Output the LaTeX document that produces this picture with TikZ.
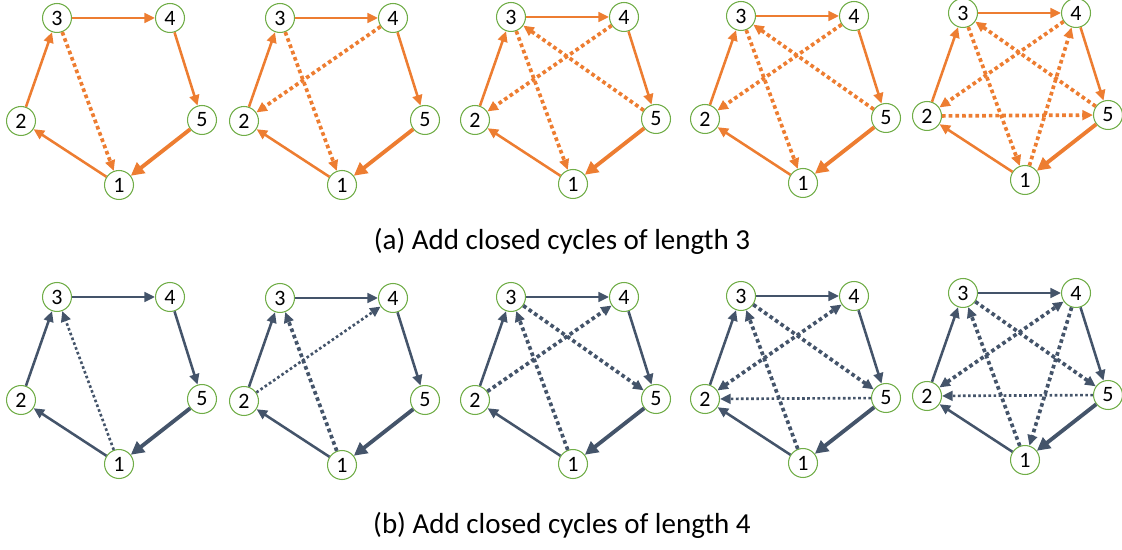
\documentclass[tikz,border=0pt]{standalone}
\usepackage{fontspec}
\setmainfont{Carlito}
\usetikzlibrary{arrows.meta}
\definecolor{cyorange}{HTML}{ED7D31}
\definecolor{cyslate}{HTML}{44546A}
\definecolor{cygreen}{HTML}{70AD47}
\tikzset{
  >={Triangle[length=6pt,width=5.5pt]},
  vtx/.style={circle,draw=cygreen,line width=0.6pt,fill=white,minimum size=16.5pt,
    inner sep=0pt,font=\fontsize{12.5}{14}\selectfont},
  ring/.style={->,line width=1.45pt},
  ringbold/.style={-{Triangle[length=7.5pt,width=7.5pt]},line width=2.2pt},
  chord/.style={->,line width=2.1pt,dash pattern=on 2.1pt off 1.7pt},
  chordthin/.style={->,line width=1.5pt,dash pattern=on 1.5pt off 1.4pt},
  caption/.style={font=\fontsize{16.5}{20}\selectfont}
}

\begin{document}
\begin{tikzpicture}[x=0.02cm,y=-0.02cm]
  \useasboundingbox (0,0) rectangle (1122,550);

  %--- the five pentagons of each row --------------------------------------
  \foreach \p/\x/\y in {a1/57/18,a2/280/18,a3/511/17,a4/741/16,a5/963/13,
                        b1/57/297,b2/280/298,b3/511/297,b4/741/296,b5/963/293}{
    \begin{scope}[shift={(\x,\y)}]
      \node[vtx] (\p-3) at (0,0)     {3};
      \node[vtx] (\p-4) at (113,0)   {4};
      \node[vtx] (\p-2) at (-36,103) {2};
      \node[vtx] (\p-5) at (145,102) {5};
      \node[vtx] (\p-1) at (62,167)  {1};
    \end{scope}
  }

  %--- base cycle 1 -> 2 -> 3 -> 4 -> 5 -> 1 --------------------------------
  \foreach \p/\c in {a1/cyorange,a2/cyorange,a3/cyorange,a4/cyorange,a5/cyorange,
                     b1/cyslate,b2/cyslate,b3/cyslate,b4/cyslate,b5/cyslate}{
    \draw[ring,\c] (\p-1) -- (\p-2);
    \draw[ring,\c] (\p-2) -- (\p-3);
    \draw[ring,\c] (\p-3) -- (\p-4);
    \draw[ring,\c] (\p-4) -- (\p-5);
    \draw[ringbold,\c] (\p-5) -- (\p-1);
  }

  %--- (a) closed cycles of length 3 ---------------------------------------
  \foreach \p in {a1,a2,a3,a4,a5}
    \draw[chord,cyorange] (\p-3) -- (\p-1);
  \foreach \p in {a2,a3,a4,a5}
    \draw[chord,cyorange] (\p-4) -- (\p-2);
  \foreach \p in {a3,a4,a5}
    \draw[chord,cyorange] (\p-5) -- (\p-3);
  \draw[chord,cyorange] (a5-2) -- (a5-5);
  \draw[chord,cyorange] (a5-1) -- (a5-4);

  \node[caption] (capa) at (562,241) {(a) Add closed cycles of length 3};

  %--- (b) closed cycles of length 4 ---------------------------------------
  \draw[chordthin,cyslate] (b1-1) -- (b1-3);

  \draw[chord,cyslate] (b2-1) -- (b2-3);
  \draw[chordthin,cyslate] (b2-2) -- (b2-4);

  \foreach \p in {b3,b4,b5}{
    \draw[chord,cyslate] (\p-1) -- (\p-3);
    \draw[chord,cyslate] (\p-3) -- (\p-5);
  }
  \draw[chord,cyslate] (b3-2) -- (b3-4);
  \foreach \p in {b4,b5}{
    \draw[chord,cyslate,<->] (\p-2) -- (\p-4);
    \draw[chordthin,cyslate] (\p-5) -- (\p-2);
  }
  \draw[chord,cyslate] (b5-4) -- (b5-1);

  \node[caption] (capb) at (562,525) {(b) Add closed cycles of length 4};
\end{tikzpicture}
\end{document}
